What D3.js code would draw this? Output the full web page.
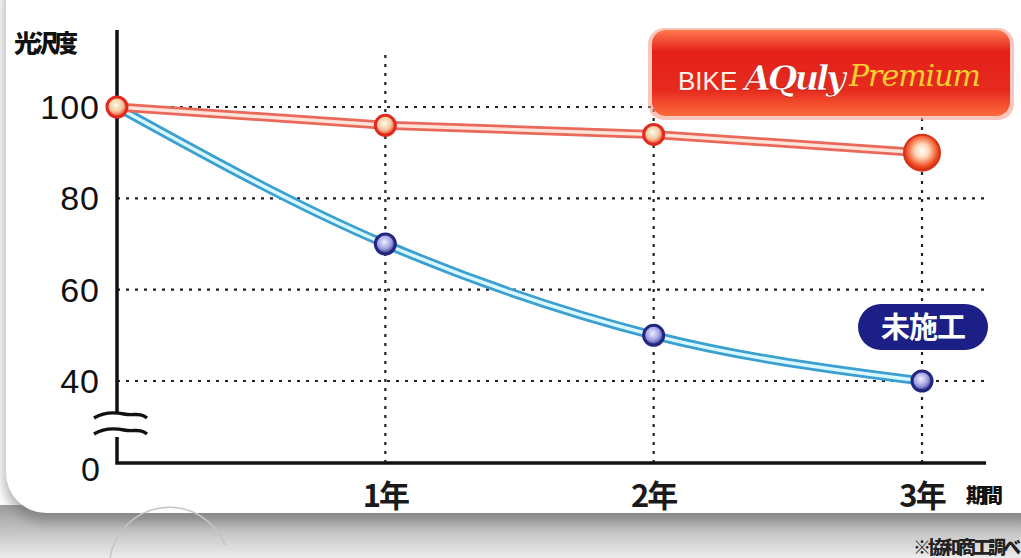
<!DOCTYPE html>
<html><head><meta charset="utf-8">
<script src="https://cdn.jsdelivr.net/npm/d3@7"></script>
<style>body{margin:0;background:#fff;overflow:hidden}svg{display:block}</style>
</head><body>
<svg id="c" width="1021" height="558"></svg>
<script>
const periods = [0, 1, 2, 3];
const xTickLabels = ["1年", "2年", "3年"];
const premium = [100, 96, 94, 90];
const untreated = [100, 70, 50, 40];
const yTicks = [100, 80, 60, 40];
const yTickLabels = ["100", "80", "60", "40"];

const svg = d3.select("#c");
const defs = svg.append("defs");
const JP = "'Noto Sans CJK JP', sans-serif";
const LAT = "'Liberation Sans', 'DejaVu Sans', sans-serif";

// background
const bg = defs.append("linearGradient").attr("id","bgg").attr("x1",0).attr("y1",0).attr("x2",0).attr("y2",1);
bg.append("stop").attr("offset","0").attr("stop-color","#9c9c9c");
bg.append("stop").attr("offset","1").attr("stop-color","#ececec");
svg.append("rect").attr("x",0).attr("y",505).attr("width",1021).attr("height",53).attr("fill","url(#bgg)");
const sh = defs.append("filter").attr("id","sh").attr("x","-5%").attr("y","-5%").attr("width","110%").attr("height","115%");
sh.append("feGaussianBlur").attr("stdDeviation",6);
svg.append("rect").attr("x",4).attr("y",-40).attr("width",1060).attr("height",562).attr("rx",42)
  .attr("fill","#666").attr("opacity",0.5).attr("filter","url(#sh)");
svg.append("rect").attr("x",6).attr("y",-40).attr("width",1060).attr("height",553).attr("rx",40).attr("fill","#fff");
svg.append("path").attr("d","M110,558 A60,60 0 0 1 225,545").attr("fill","none").attr("stroke","#c4c4c4").attr("stroke-width",1.5);

const x = d3.scaleLinear().domain([0,3]).range([117,922]);
const y = d3.scaleLinear().domain([0,40,100]).range([463,381,107]);

// grid
const g = svg.append("g");
g.selectAll("line.h").data(yTicks).join("line")
  .attr("x1",x(0)).attr("x2",985).attr("y1",d=>y(d)).attr("y2",d=>y(d))
  .attr("stroke","#222").attr("stroke-width",2.2).attr("stroke-dasharray","3,6");
g.selectAll("line.v").data(periods.slice(1)).join("line")
  .attr("x1",d=>x(d)).attr("x2",d=>x(d)).attr("y1",55).attr("y2",y(0))
  .attr("stroke","#222").attr("stroke-width",2.2).attr("stroke-dasharray","3,6");

// axes
const axG = svg.append("g");
axG.append("path").attr("d",`M${x(0)},30 V412 M${x(0)},437 V${y(0)} H986`)
  .attr("fill","none").attr("stroke","#111").attr("stroke-width",3.5);
// break marks
[414,430].forEach(yy=>{
  axG.append("path").attr("d",`M94,${yy+4} C104,${yy-2} 114,${yy-2} 124,${yy} S140,${yy-2} 147,${yy+4}`)
    .attr("fill","none").attr("stroke","#111").attr("stroke-width",3.4);
});

// y tick labels
svg.append("g").selectAll("text").data(yTicks).join("text")
  .attr("x",100).attr("y",d=>y(d)+12).attr("text-anchor","end")
  .attr("font-family",LAT).attr("font-size",34).attr("letter-spacing",1).attr("fill","#111")
  .text((d,i)=>yTickLabels[i]);
svg.append("text").attr("x",100).attr("y",481).attr("text-anchor","end")
  .attr("font-family",LAT).attr("font-size",34).attr("fill","#111").text("0");
svg.append("text").attr("x",14).attr("y",52).attr("font-family",JP).attr("font-weight",900)
  .attr("font-size",24).attr("letter-spacing",-4).attr("fill","#111").text("光沢度");

// x tick labels
svg.append("g").selectAll("text").data(periods.slice(1)).join("text")
  .attr("x",d=>x(d)).attr("y",507).attr("text-anchor","middle")
  .attr("font-family",JP).attr("font-weight",700).attr("font-size",31).attr("letter-spacing",-2).attr("fill","#1a1a1a")
  .text((d,i)=>xTickLabels[i]);
svg.append("text").attr("x",966).attr("y",503).attr("font-family",JP).attr("font-weight",900)
  .attr("font-size",20).attr("letter-spacing",-3).attr("fill","#111").text("期間");
svg.append("text").attr("x",1018).attr("y",554).attr("text-anchor","end").attr("font-family",JP).attr("font-weight",900)
  .attr("font-size",18).attr("letter-spacing",-3).attr("fill","#222").text("※協和商工調べ");

// lines
const lineStraight = d3.line().x((d,i)=>x(periods[i])).y(d=>y(d));
const lineCurve = d3.line().x((d,i)=>x(periods[i])).y(d=>y(d)).curve(d3.curveMonotoneX);
svg.append("path").attr("d",lineCurve(untreated)).attr("fill","none").attr("stroke","#3b9fd0").attr("stroke-width",9);
svg.append("path").attr("d",lineCurve(untreated)).attr("fill","none").attr("stroke","#d8f8ff").attr("stroke-width",3.5);
svg.append("path").attr("d",lineStraight(premium)).attr("fill","none").attr("stroke","#e8685a").attr("stroke-width",9);
svg.append("path").attr("d",lineStraight(premium)).attr("fill","none").attr("stroke","#ffe2d8").attr("stroke-width",3.5);

// markers
const rg = defs.append("radialGradient").attr("id","rg").attr("cx","45%").attr("cy","40%").attr("r","60%");
rg.append("stop").attr("offset","0").attr("stop-color","#f4ffe8");
rg.append("stop").attr("offset","0.55").attr("stop-color","#f8c8a0");
rg.append("stop").attr("offset","1").attr("stop-color","#e83a20");
const bgr = defs.append("radialGradient").attr("id","bgr").attr("cx","45%").attr("cy","40%").attr("r","60%");
bgr.append("stop").attr("offset","0").attr("stop-color","#f0f0ff");
bgr.append("stop").attr("offset","0.6").attr("stop-color","#9a9ae0");
bgr.append("stop").attr("offset","1").attr("stop-color","#25287a");
const big = defs.append("radialGradient").attr("id","big").attr("cx","50%").attr("cy","45%").attr("r","55%");
big.append("stop").attr("offset","0").attr("stop-color","#ffffff");
big.append("stop").attr("offset","0.35").attr("stop-color","#ffd7b8");
big.append("stop").attr("offset","0.8").attr("stop-color","#f04a20");
big.append("stop").attr("offset","1").attr("stop-color","#c82810");

svg.append("g").selectAll("circle").data(untreated.slice(1)).join("circle")
  .attr("cx",(d,i)=>x(periods[i+1])).attr("cy",d=>y(d)).attr("r",10)
  .attr("fill","url(#bgr)").attr("stroke","#23267e").attr("stroke-width",3);
svg.append("g").selectAll("circle").data(premium.slice(0,3)).join("circle")
  .attr("cx",(d,i)=>x(periods[i])).attr("cy",d=>y(d)).attr("r",10)
  .attr("fill","url(#rg)").attr("stroke","#e02a20").attr("stroke-width",3);
svg.append("circle").attr("cx",x(3)).attr("cy",y(premium[3])).attr("r",18)
  .attr("fill","url(#big)").attr("stroke","#d43418").attr("stroke-width",2);

// banner
const bn = defs.append("linearGradient").attr("id","bn").attr("x1",0).attr("y1",0).attr("x2",0).attr("y2",1);
bn.append("stop").attr("offset","0").attr("stop-color","#ff7a50");
bn.append("stop").attr("offset","0.25").attr("stop-color","#e5201a");
bn.append("stop").attr("offset","0.7").attr("stop-color","#e52b1e");
bn.append("stop").attr("offset","1").attr("stop-color","#ff6a3a");
svg.append("rect").attr("x",648).attr("y",28).attr("width",366).attr("height",92).attr("rx",16)
  .attr("fill","#f4a090").attr("opacity",0.6);
svg.append("rect").attr("x",652).attr("y",30).attr("width",358).attr("height",86).attr("rx",14).attr("fill","url(#bn)");
const bt = svg.append("text").attr("x",678).attr("y",90);
bt.append("tspan").attr("font-family",LAT).attr("font-size",26).attr("fill","#fff2ea").text("BIKE ");
bt.append("tspan").attr("font-family","'DejaVu Serif', serif").attr("font-style","italic").attr("font-weight",700).attr("font-size",34)
  .attr("fill","#ffffff").attr("stroke","#b01010").attr("stroke-width",0.6).attr("letter-spacing",-3).text("AQuly");
bt.append("tspan").attr("dx",6).attr("dy",-4).attr("font-family","'DejaVu Serif', serif").attr("font-style","italic").attr("font-size",30)
  .attr("fill","#f6d030").attr("letter-spacing",-1).text("Premium");

// untreated label
svg.append("rect").attr("x",858).attr("y",304).attr("width",130).attr("height",46).attr("rx",23).attr("fill","#1c1f86");
svg.append("text").attr("x",923).attr("y",338).attr("text-anchor","middle").attr("font-family",JP).attr("font-weight",700)
  .attr("font-size",29).attr("letter-spacing",-1).attr("fill","#fff").text("未施工");
</script>
</body></html>
